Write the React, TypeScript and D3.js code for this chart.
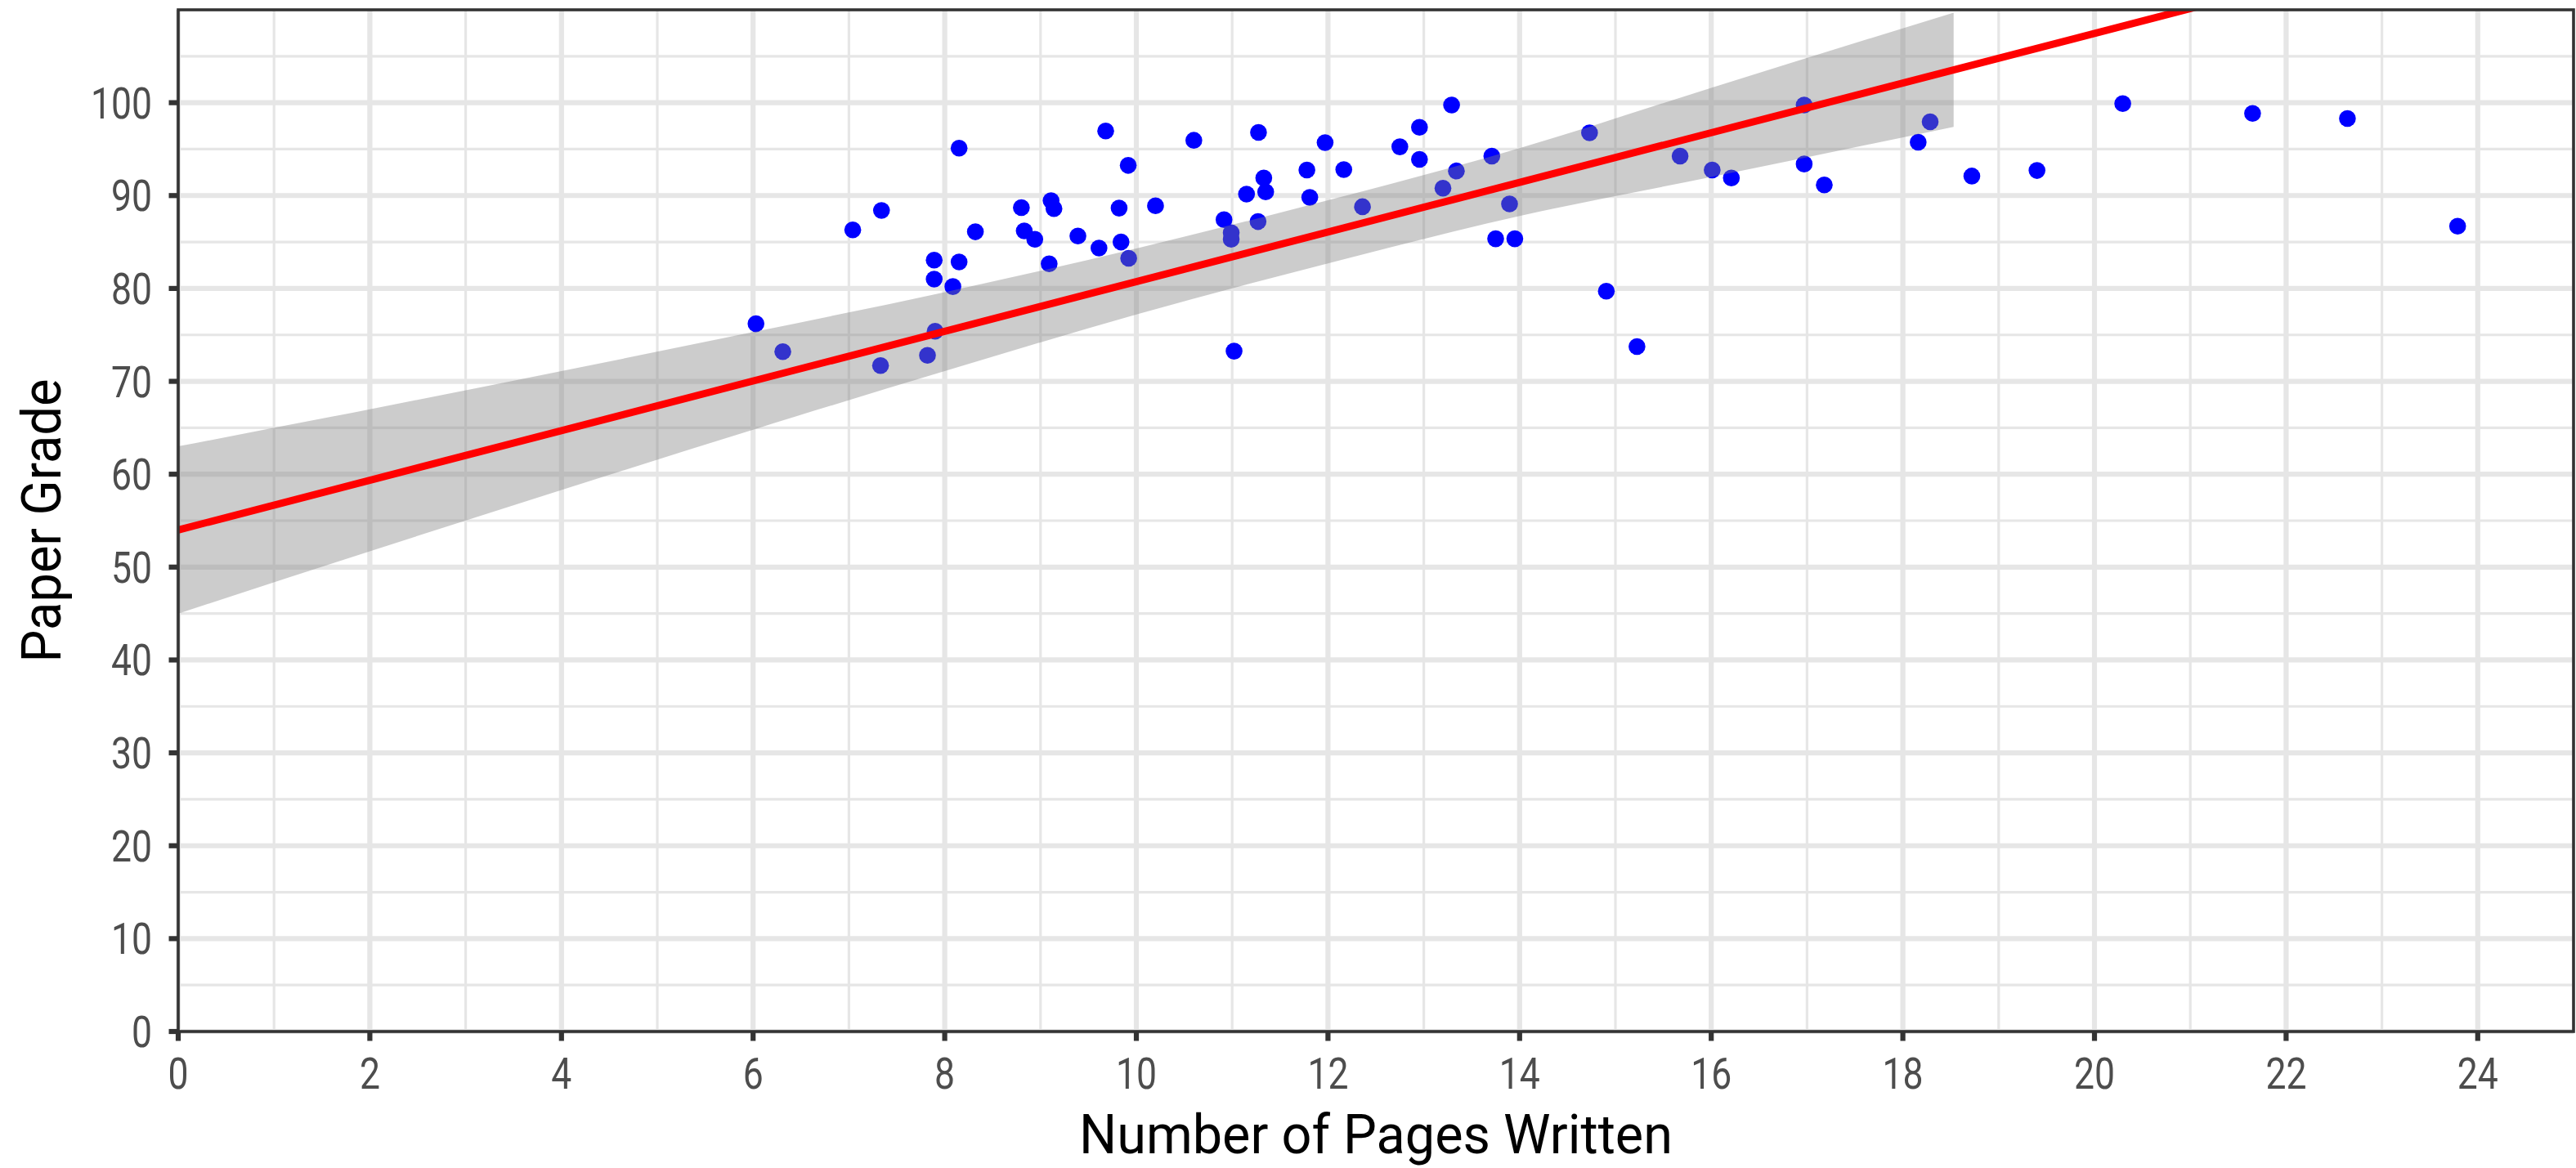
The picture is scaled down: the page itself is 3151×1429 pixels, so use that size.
import React from 'react';
import * as d3 from 'd3';

// ---- data ----
const pages = [
  6.03, 6.31, 7.04, 7.34, 7.33, 8.15, 7.89, 8.15, 7.89, 8.085, 8.32, 7.9, 7.82, 8.8, 9.11, 9.14, 8.83, 8.94, 9.09, 9.39,
  9.61, 9.68, 9.915, 9.82, 10.2, 9.84, 9.92, 10.6, 11.02, 10.915, 10.99, 10.99, 11.15, 11.275, 11.33, 11.35, 11.27,
  11.78, 11.81, 11.97, 12.165, 12.36, 12.75, 12.955, 12.955, 13.2,
  13.29, 13.34, 13.71, 13.895, 13.75, 13.95, 14.73, 14.905, 15.225, 15.675, 16.01, 16.21,
  16.97, 16.97, 17.18, 18.285, 18.16, 18.72, 19.4, 20.295,
  21.65, 22.64, 23.79,
];
const grades = [
  76.2, 73.2, 86.3, 88.4, 71.7, 95.1, 83.05, 82.85, 81.0, 80.2, 86.1, 75.4, 72.8, 88.7, 89.45, 88.6, 86.2, 85.3, 82.65, 85.65,
  84.35, 96.95, 93.25, 88.65, 88.9, 85.0, 83.25, 95.95, 73.25, 87.4, 86.0, 85.3, 90.15, 96.8, 91.9, 90.4, 87.2,
  92.75, 89.8, 95.7, 92.8, 88.8, 95.25, 97.35, 93.9, 90.8,
  99.75, 92.65, 94.25, 89.1, 85.35, 85.35, 96.75, 79.7, 73.75, 94.25, 92.75, 91.9,
  99.75, 93.4, 91.15, 97.95, 95.75, 92.1, 92.7, 99.9,
  98.85, 98.3, 86.7,
];

// confidence band of the fitted line
const bandX = [0, 2, 4, 6, 8, 10, 12, 14, 16, 18.53];
const bandLow = [45.0, 51.7, 58.3, 64.8, 71.1, 77.2, 82.7, 87.8, 92.0, 97.4];
const bandHigh = [63.0, 67.0, 71.1, 75.3, 79.6, 84.3, 89.5, 95.1, 101.6, 109.7];

// fitted line
const fitIntercept = 54.0;
const fitSlope = 2.673;

const xTicks = [0, 2, 4, 6, 8, 10, 12, 14, 16, 18, 20, 22, 24];
const yTicks = [0, 10, 20, 30, 40, 50, 60, 70, 80, 90, 100];
const xMinor = [1, 3, 5, 7, 9, 11, 13, 15, 17, 19, 21, 23, 25];
const yMinor = [5, 15, 25, 35, 45, 55, 65, 75, 85, 95, 105];

const xTitle = 'Number of Pages Written';
const yTitle = 'Paper Grade';

// ---- layout ----
const W = 3151;
const H = 1429;
const L = 218, R = 3148, T = 12, B = 1262;
const FONT = 'Roboto, "DejaVu Sans", sans-serif';

export default function App() {
  const x = d3.scaleLinear().domain([0, 25]).range([L, R]);
  const y = d3.scaleLinear().domain([0, 110]).range([B, T]);

  const band = d3
    .area<number>()
    .x((_, i) => x(bandX[i]))
    .y0((_, i) => y(bandLow[i]))
    .y1((_, i) => y(bandHigh[i]))
    .curve(d3.curveMonotoneX);

  const fitLine = d3
    .line<number>()
    .x((d) => x(d))
    .y((d) => y(fitIntercept + fitSlope * d));

  const gridColor = '#e6e6e6';

  return (
    <svg
      width={W}
      height={H}
      style={{ position: 'absolute', left: 0, top: 0, background: '#fff' }}
      xmlns="http://www.w3.org/2000/svg"
    >
      <defs>
        <clipPath id="panel">
          <rect x={L} y={T} width={R - L} height={B - T} />
        </clipPath>
      </defs>
      <rect x={0} y={0} width={W} height={H} fill="#fff" />

      {/* minor grid */}
      {xMinor.map((v) => (
        <line key={'xm' + v} x1={x(v)} x2={x(v)} y1={T} y2={B} stroke={gridColor} strokeWidth={3.2} />
      ))}
      {yMinor.map((v) => (
        <line key={'ym' + v} x1={L} x2={R} y1={y(v)} y2={y(v)} stroke={gridColor} strokeWidth={3.2} />
      ))}
      {/* major grid */}
      {xTicks.map((v) => (
        <line key={'xg' + v} x1={x(v)} x2={x(v)} y1={T} y2={B} stroke={gridColor} strokeWidth={6.2} />
      ))}
      {yTicks.map((v) => (
        <line key={'yg' + v} x1={L} x2={R} y1={y(v)} y2={y(v)} stroke={gridColor} strokeWidth={6.2} />
      ))}

      <g clipPath="url(#panel)">
        {/* points */}
        {pages.map((p, i) => (
          <circle key={'pt' + i} cx={x(p)} cy={y(grades[i])} r={10.3} fill="#0000ff" />
        ))}
        {/* confidence band drawn over the points */}
        <path d={band(bandX) || ''} fill="#7f7f7f" fillOpacity={0.4} stroke="none" />
        {/* fitted line */}
        <path d={fitLine([0, 25]) || ''} fill="none" stroke="#ff0000" strokeWidth={8.9} />
      </g>

      {/* panel border */}
      <rect x={L} y={T} width={R - L} height={B - T} fill="none" stroke="#333333" strokeWidth={3.6} />

      {/* ticks */}
      {xTicks.map((v) => (
        <line key={'xt' + v} x1={x(v)} x2={x(v)} y1={B} y2={B + 11.5} stroke="#333333" strokeWidth={6.2} />
      ))}
      {yTicks.map((v) => (
        <line key={'yt' + v} x1={L - 11.5} x2={L} y1={y(v)} y2={y(v)} stroke="#333333" strokeWidth={6.2} />
      ))}

      {/* tick labels */}
      {xTicks.map((v) => (
        <g key={'xl' + v} transform={`translate(${x(v)},${1332}) scale(0.84,1)`}>
          <text textAnchor="middle" fontFamily={FONT} fontSize={53} fill="#4d4d4d">
            {v}
          </text>
        </g>
      ))}
      {yTicks.map((v) => (
        <g key={'yl' + v} transform={`translate(${186},${y(v) + 19}) scale(0.84,1)`}>
          <text textAnchor="end" fontFamily={FONT} fontSize={53} fill="#4d4d4d">
            {v}
          </text>
        </g>
      ))}

      {/* axis titles */}
      <text
        x={(L + R) / 2}
        y={1411}
        textAnchor="middle"
        fontFamily={FONT}
        fontSize={67}
        fill="#000"
        textLength={726}
        lengthAdjust="spacingAndGlyphs"
      >
        {xTitle}
      </text>
      <text
        transform={`translate(${74},${(T + B) / 2}) rotate(-90)`}
        textAnchor="middle"
        fontFamily={FONT}
        fontSize={67}
        fill="#000"
        textLength={347}
        lengthAdjust="spacingAndGlyphs"
      >
        {yTitle}
      </text>
    </svg>
  );
}
